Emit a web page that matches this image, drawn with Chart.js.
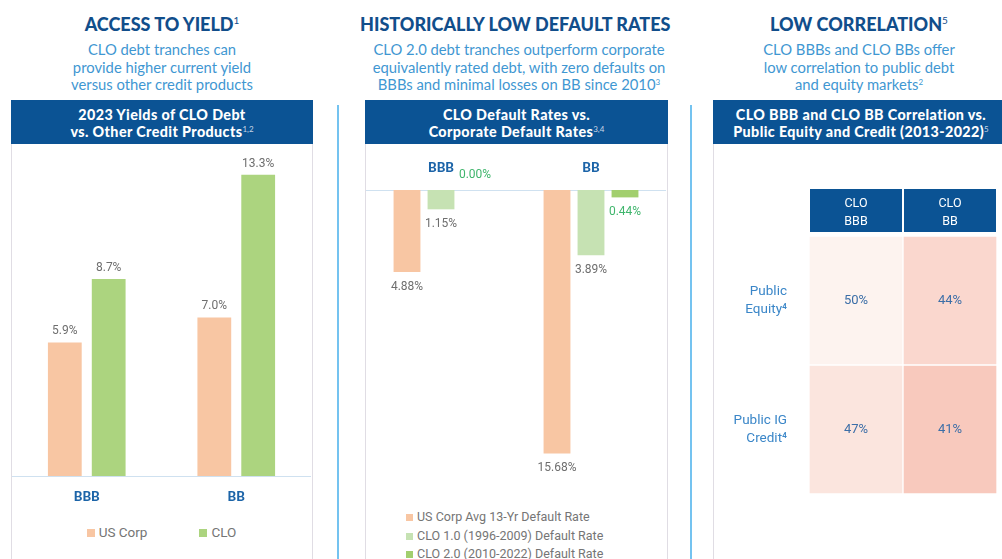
<!DOCTYPE html>
<html>
<head>
<meta charset="utf-8">
<script src="https://cdn.jsdelivr.net/npm/chart.js@4"></script>
<style>
  body { margin: 0; width: 1002px; height: 559px; overflow: hidden; background: #fff; position: relative; font-family: Lato, sans-serif; }
  .title { position: absolute; top: 13px; text-align: center; font-weight: 900; font-size: 18px; color: #114e8b; white-space: nowrap; }
  .title sup { font-weight: 400; font-size: 10px; vertical-align: 7px; line-height: 0; }
  .sub { position: absolute; top: 41px; text-align: center; font-size: 14.8px; line-height: 17.5px; color: #3f97d2; white-space: nowrap; }
  .sub sup { font-size: 8px; vertical-align: 5px; line-height: 0; }
  .head { position: absolute; top: 100px; height: 44px; background: #0b5394; color: #fff; text-align: center; font-weight: 900; font-size: 14.3px; letter-spacing: 0.4px; line-height: 17px; padding-top: 6px; box-sizing: border-box; white-space: nowrap; }
  .head sup { font-weight: 400; font-size: 8px; letter-spacing: 0; vertical-align: 5px; line-height: 0; color: #c9d6e6; }
  .panel { position: absolute; top: 144px; height: 420px; border: 1px solid #e0dde4; border-top: none; box-sizing: border-box; }
  .sep { position: absolute; top: 105px; width: 2px; height: 460px; background: #74c3f0; }
  canvas { position: absolute; }
  .legend { position: absolute; font-family: Roboto, sans-serif; color: #757575; }
  .legend span.box { display: inline-block; }
</style>
</head>
<body>

<div class="title" style="left:11px;width:302px;">ACCESS TO YIELD<sup>1</sup></div>
<div class="sub" style="left:11px;width:302px;">CLO debt tranches can<br>provide higher current yield<br>versus other credit products</div>
<div class="head" style="left:11px;width:302px;">2023 Yields of CLO Debt<br>vs. Other Credit Products<sup>1,2</sup></div>
<div class="panel" style="left:11px;width:302px;"></div>

<div class="sep" style="left:337px;"></div>

<div class="title" style="left:360px;width:310px;">HISTORICALLY LOW DEFAULT RATES</div>
<div class="sub" style="left:365px;width:308px;">CLO 2.0 debt tranches outperform corporate<br>equivalently rated debt, with zero defaults on<br>BBBs and minimal losses on BB since 2010<sup>3</sup></div>
<div class="head" style="left:365px;width:303px;">CLO Default Rates vs.<br>Corporate Default Rates<sup>3,4</sup></div>
<div class="panel" style="left:365px;width:303px;"></div>

<div class="sep" style="left:690px;"></div>

<div class="title" style="left:713px;width:292px;">LOW CORRELATION<sup>5</sup></div>
<div class="sub" style="left:713px;width:292px;">CLO BBBs and CLO BBs offer<br>low correlation to public debt<br>and equity markets<sup>2</sup></div>
<div class="head" style="left:713px;width:296px;">CLO BBB and CLO BB Correlation vs.<br>Public Equity and Credit (2013-2022)<sup>5</sup></div>
<div class="panel" style="left:713px;width:300px;"></div>

<canvas id="yieldChart" width="299" height="366" style="left:12px;top:144px;"></canvas>
<div id="yieldLegend" class="legend" style="left:12px;top:524px;width:299px;text-align:center;font-size:13.5px;"></div>

<canvas id="defaultChart" width="300" height="361" style="left:366px;top:144px;"></canvas>
<div id="defaultLegend" class="legend" style="left:406px;top:508px;font-size:12.5px;line-height:18.5px;"></div>

<canvas id="corrChart" width="288" height="415" style="left:714px;top:144px;"></canvas>

<script>
// Yields (left)
const yieldCategories = ['BBB', 'BB'];
const usCorpYield = [5.9, 7.0];
const cloYield = [8.7, 13.3];

// Default rates (middle)
const defaultCategories = ['BBB', 'BB'];
const usCorpDefault = [4.88, 15.68];
const clo1Default = [1.15, 3.89];
const clo2Default = [0.00, 0.44];
const defaultSeriesNames = ['US Corp Avg 13-Yr Default Rate', 'CLO 1.0 (1996-2009) Default Rate', 'CLO 2.0 (2010-2022) Default Rate'];

// Correlation (right)
const corrColumns = [['CLO', 'BBB'], ['CLO', 'BB']];
const corrRows = [['Public', 'Equity\u2074'], ['Public IG', 'Credit\u2074']];
const equityCorr = [50, 44];
const igCreditCorr = [47, 41];

const PEACH = '#f8c6a3';
const GREEN = '#acd47f';
const LIGHT_GREEN = '#c6e2b3';
const MID_GREEN = '#a2cf6e';

Chart.defaults.font.family = 'Roboto';

// draws value text on every bar
function makeLabels(font, colorFor, yFor) {
    return {
        id: 'valueLabels',
        afterDatasetsDraw(chart) {
            const ctx = chart.ctx;
            ctx.save();
            ctx.font = font;
            ctx.textAlign = 'center';
            ctx.textBaseline = 'middle';
            chart.data.datasets.forEach((ds, i) => {
                chart.getDatasetMeta(i).data.forEach((bar, j) => {
                    const v = ds.data[j];
                    ctx.fillStyle = colorFor(i);
                    ctx.fillText(v.toFixed(ds.decimals) + '%', bar.x, yFor(bar, v));
                });
            });
            ctx.restore();
        }
    };
}

function htmlLegend(el, chart, boxSize, gap, inline) {
    chart.data.datasets.forEach(ds => {
        const item = document.createElement('div');
        item.style.display = inline ? 'inline-block' : 'block';
        if (inline) item.style.margin = '0 ' + gap / 2 + 'px';
        item.innerHTML = '<span class="box" style="width:' + boxSize + 'px;height:' + boxSize + 'px;background:' +
            ds.backgroundColor + ';margin-right:4px;"></span>' + ds.label;
        el.appendChild(item);
    });
}

// Left chart
const yieldChart = new Chart(document.getElementById('yieldChart'), {
    type: 'bar',
    data: {
        labels: yieldCategories,
        datasets: [
            { label: 'US Corp', data: usCorpYield, backgroundColor: PEACH, decimals: 1 },
            { label: 'CLO', data: cloYield, backgroundColor: GREEN, decimals: 1 }
        ]
    },
    options: {
        responsive: false,
        animation: false,
        layout: { padding: { top: 10 } },
        datasets: { bar: { categoryPercentage: 0.587, barPercentage: 0.77 } },
        plugins: { legend: { display: false }, tooltip: { enabled: false } },
        scales: {
            x: {
                grid: { display: false },
                border: { color: '#cfe1f0' },
                ticks: { color: '#1c64a8', font: { family: 'Lato', weight: 900, size: 13 }, padding: 5 },
                afterFit(s) { s.height = 34; }
            },
            y: { display: false, min: 0, max: 14.22 }
        }
    },
    plugins: [makeLabels('12px Roboto', () => '#6e6e6e', (bar) => bar.y - 11)]
});
htmlLegend(document.getElementById('yieldLegend'), yieldChart, 8, 52, true);

// Middle chart
const defaultChart = new Chart(document.getElementById('defaultChart'), {
    type: 'bar',
    data: {
        labels: defaultCategories,
        datasets: [
            { label: defaultSeriesNames[0], data: usCorpDefault, backgroundColor: PEACH, decimals: 2 },
            { label: defaultSeriesNames[1], data: clo1Default, backgroundColor: LIGHT_GREEN, decimals: 2 },
            { label: defaultSeriesNames[2], data: clo2Default, backgroundColor: MID_GREEN, decimals: 2 }
        ]
    },
    options: {
        responsive: false,
        animation: false,
        datasets: { bar: { categoryPercentage: 0.68, barPercentage: 0.79 } },
        plugins: { legend: { display: false }, tooltip: { enabled: false } },
        scales: {
            x: {
                position: 'top',
                grid: { display: false },
                border: { color: '#cfe1f0' },
                ticks: { color: '#1c64a8', font: { family: 'Lato', weight: 900, size: 13 }, padding: 6 },
                afterFit(s) { s.height = 46; }
            },
            y: { display: false, reverse: true, min: 0, max: 18.75 }
        }
    },
    plugins: [makeLabels('12px Roboto',
        (i) => i === 2 ? '#3fb56c' : '#6e6e6e',
        (bar, v) => v === 0 ? bar.y - 15 : bar.y + 15)]
});
htmlLegend(document.getElementById('defaultLegend'), defaultChart, 7, 0, false);

// Right chart: correlation heatmap
function corrColor(v) {
    // lighter for higher correlation, deeper for lower
    const t = (50 - v) / 9;
    const r = Math.round(253 - 5 * t), g = Math.round(243 - 42 * t), b = Math.round(239 - 50 * t);
    return 'rgb(' + r + ',' + g + ',' + b + ')';
}

const corrPlugin = {
    id: 'corrCells',
    beforeDraw(chart) {
        const ctx = chart.ctx, x = chart.scales.x;
        const half = (chart.chartArea.right - chart.chartArea.left) / corrColumns.length / 2;
        ctx.save();
        ctx.fillStyle = '#0b5394';
        corrColumns.forEach((c, i) => {
            const cx = x.getPixelForTick(i);
            ctx.fillRect(cx - half + 1, x.top, 2 * half - 2, x.bottom - x.top - 4);
        });
        ctx.restore();
    },
    afterDatasetsDraw(chart) {
        const ctx = chart.ctx;
        ctx.save();
        ctx.font = '13px Roboto';
        ctx.fillStyle = '#3b6ea7';
        ctx.textAlign = 'center';
        ctx.textBaseline = 'middle';
        chart.data.datasets.forEach((ds, i) => {
            chart.getDatasetMeta(i).data.forEach((bar, j) => {
                ctx.fillText(ds.corr[j] + '%', bar.x, (bar.y + bar.base) / 2);
            });
        });
        ctx.restore();
    }
};

new Chart(document.getElementById('corrChart'), {
    type: 'bar',
    data: {
        labels: corrColumns,
        datasets: [
            { label: 'Public Equity', data: equityCorr.map(() => 1), corr: equityCorr, backgroundColor: equityCorr.map(corrColor) },
            { label: 'Public IG Credit', data: igCreditCorr.map(() => 1), corr: igCreditCorr, backgroundColor: igCreditCorr.map(corrColor) }
        ]
    },
    options: {
        responsive: false,
        animation: false,
        layout: { padding: { top: 45, right: 5, bottom: 65 } },
        datasets: { bar: { categoryPercentage: 1, barPercentage: 1, borderWidth: 1, borderColor: '#fff', borderSkipped: false } },
        plugins: { legend: { display: false }, tooltip: { enabled: false } },
        scales: {
            x: {
                position: 'top',
                stacked: true,
                grid: { display: false },
                border: { display: false },
                ticks: { color: '#fff', font: { size: 12.5, lineHeight: 1.45 }, padding: -3 },
                afterFit(s) { s.height = 47; }
            },
            y: {
                stacked: true,
                reverse: true,
                min: 0,
                max: 2,
                grid: { display: false },
                border: { display: false },
                afterBuildTicks(s) { s.ticks = [{ value: 0.5 }, { value: 1.5 }]; },
                ticks: {
                    color: '#3a86c8',
                    font: { size: 13.5, lineHeight: 1.35 },
                    padding: 14,
                    callback: (v, i) => corrRows[i]
                },
                afterFit(s) { s.width = 95; }
            }
        }
    },
    plugins: [corrPlugin]
});
</script>
</body>
</html>
